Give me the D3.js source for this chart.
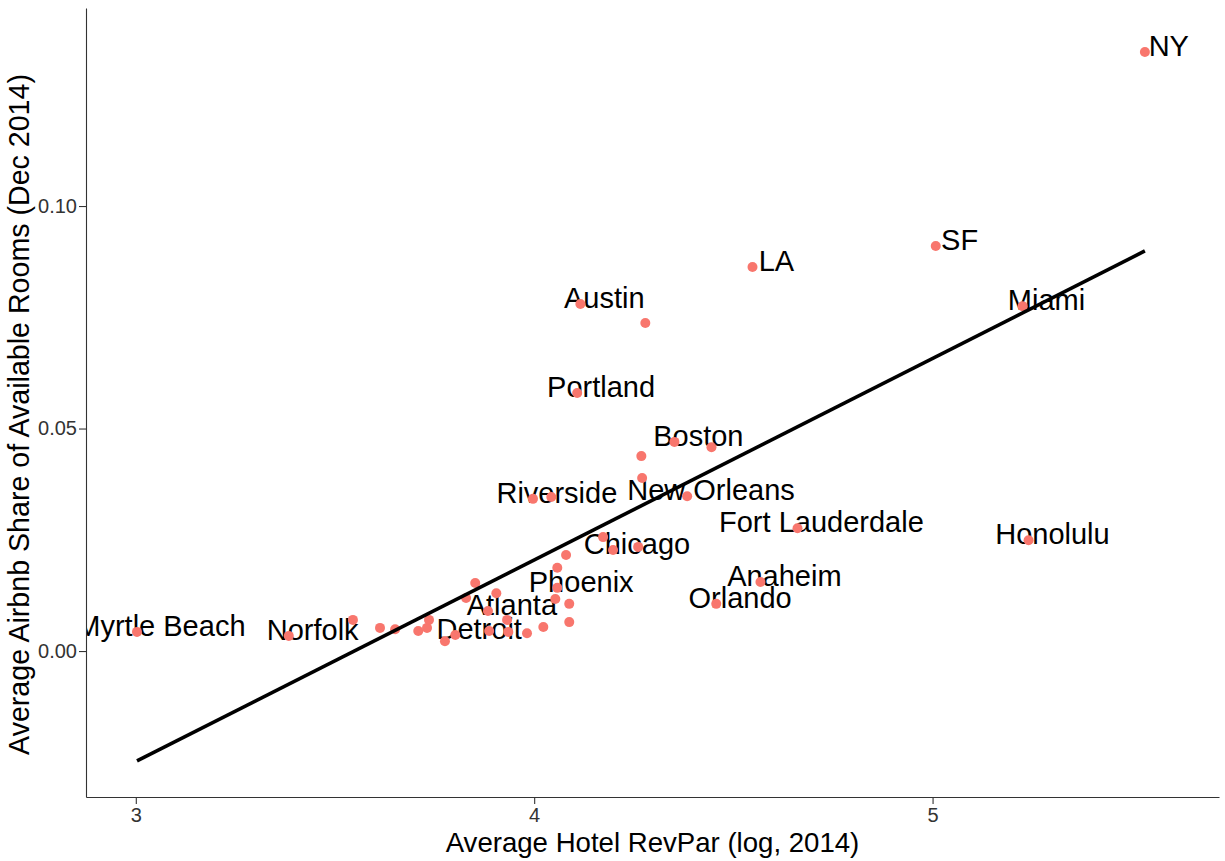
<html>
<head>
<meta charset="utf-8">
<style>
  body { margin: 0; background: #fff; }
  text { font-family: "Liberation Sans", Arial, Helvetica, sans-serif; }
  .axis path, .axis line { stroke: #333; stroke-width: 1.1px; }
  .axis text { fill: #333; font-size: 20px; }
  .city-label { font-size: 29px; fill: #000; text-anchor: middle; }
  .title { font-size: 27.6px; fill: #000; text-anchor: middle; }
</style>
</head>
<body>
<script src="https://cdnjs.cloudflare.com/ajax/libs/d3/7.8.5/d3.min.js"></script>
<script>

// metro names ("" = point shown without a label)
var cities = ["Myrtle Beach", "Norfolk", "", "", "", "", "", "", "", "Detroit",
  "", "", "Atlanta", "", "", "", "", "", "Riverside", "",
  "", "", "Phoenix", "", "", "", "", "Portland", "Austin", "",
  "Chicago", "", "", "", "", "Boston", "New Orleans", "", "Orlando", "LA",
  "Anaheim", "Fort Lauderdale", "SF", "Miami", "Honolulu", "NY"];

// average hotel RevPar (log, 2014)
var revpar = [3.003, 3.384, 3.545, 3.613, 3.651, 3.709, 3.731, 3.736, 3.776, 3.802,
  3.829, 3.852, 3.884, 3.887, 3.905, 3.932, 3.935, 3.982, 3.997, 4.023,
  4.043, 4.053, 4.058, 4.058, 4.080, 4.088, 4.088, 4.108, 4.116, 4.173,
  4.198, 4.261, 4.269, 4.271, 4.279, 4.352, 4.384, 4.445, 4.457, 4.548,
  4.568, 4.661, 5.008, 5.226, 5.241, 5.533];

// average airbnb share of available rooms (Dec 2014)
var share = [0.0043, 0.0034, 0.0070, 0.0052, 0.0049, 0.0045, 0.0052, 0.0070, 0.0022, 0.0036,
  0.0119, 0.0153, 0.0090, 0.0045, 0.0130, 0.0070, 0.0043, 0.0040, 0.0342, 0.0054,
  0.0346, 0.0117, 0.0142, 0.0187, 0.0216, 0.0065, 0.0106, 0.0580, 0.0780, 0.0256,
  0.0227, 0.0234, 0.0438, 0.0389, 0.0737, 0.0470, 0.0348, 0.0458, 0.0106, 0.0863,
  0.0155, 0.0276, 0.0910, 0.0775, 0.0249, 0.1346];

// linear fit endpoints
var fitX = [3.003, 5.533];
var fitY = [-0.0247, 0.0899];

// axis ticks
var xTicks = [3, 4, 5];
var yTicks = [0.00, 0.05, 0.10];

var W = 1225, H = 861;
var margin = {top: 8, right: 6, bottom: 64, left: 86};
var width = W - margin.left - margin.right,
    height = H - margin.top - margin.bottom;

var svg = d3.select("body").append("svg")
    .attr("width", W)
    .attr("height", H);

var g = svg.append("g")
    .attr("transform", "translate(" + margin.left + "," + margin.top + ")");

var x = d3.scaleLinear().domain([2.875, 5.719]).range([0, width]);
var y = d3.scaleLinear().domain([-0.0328, 0.1445]).range([height, 0]);

var data = cities.map(function(c, i) { return {city: c, x: revpar[i], y: share[i]}; });

// clip for the panel
svg.append("defs").append("clipPath").attr("id", "panel")
  .append("rect").attr("width", width).attr("height", height);

var panel = g.append("g").attr("clip-path", "url(#panel)");

// labels nudged up and right of their points
var nudgeX = 0.06, nudgeY = 0.0014;
panel.append("g")
  .selectAll("text")
  .data(data.filter(function(d) { return d.city !== ""; }))
  .enter().append("text")
    .attr("class", "city-label")
    .attr("x", function(d) { return x(d.x + nudgeX); })
    .attr("y", function(d) { return y(d.y + nudgeY); })
    .attr("dy", "0.35em")
    .text(function(d) { return d.city; });

// points
panel.append("g")
  .selectAll("circle")
  .data(data)
  .enter().append("circle")
    .attr("cx", function(d) { return x(d.x); })
    .attr("cy", function(d) { return y(d.y); })
    .attr("r", 5)
    .attr("fill", "#F8766D");

// fit line
var line = d3.line()
    .x(function(d) { return x(d[0]); })
    .y(function(d) { return y(d[1]); });
panel.append("path")
    .datum(fitX.map(function(v, i) { return [v, fitY[i]]; }))
    .attr("d", line)
    .attr("fill", "none")
    .attr("stroke", "#000")
    .attr("stroke-width", 3.6);

// axes
g.append("g")
    .attr("class", "axis")
    .attr("transform", "translate(0," + height + ")")
    .call(d3.axisBottom(x).tickValues(xTicks).tickFormat(d3.format("d")).tickSize(7).tickSizeOuter(0).tickPadding(4));

g.append("g")
    .attr("class", "axis")
    .call(d3.axisLeft(y).tickValues(yTicks).tickFormat(d3.format(".2f")).tickSize(7).tickSizeOuter(0).tickPadding(2));

// axis titles
g.append("text")
    .attr("class", "title")
    .attr("x", width / 2)
    .attr("y", height + 55)
    .text("Average Hotel RevPar (log, 2014)");

g.append("text")
    .attr("class", "title")
    .style("font-size", "28.6px")
    .attr("transform", "translate(" + (29 - margin.left) + "," + (height / 2 + 12) + ") rotate(-90)")
    .text("Average Airbnb Share of Available Rooms (Dec 2014)");

</script>
</body>
</html>
